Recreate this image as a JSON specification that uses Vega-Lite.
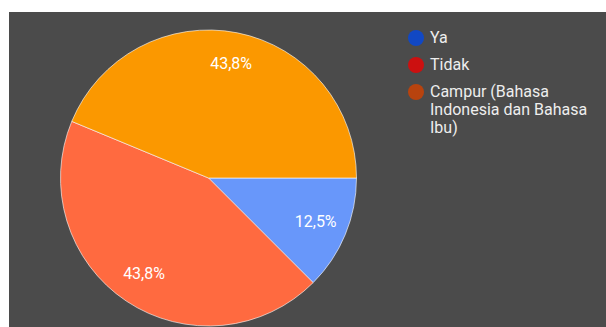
{
  "$schema": "https://vega.github.io/schema/vega-lite/v6.json",
  "background": "#ffffff",
  "padding": {"left": 9, "top": 12, "right": 0, "bottom": 0},
  "data": {"values": [
    {"jawaban": "Ya", "jumlah": 2, "urutan": 1, "label": "12,5%"},
    {"jawaban": "Tidak", "jumlah": 7, "urutan": 2, "label": "43,8%"},
    {"jawaban": "Campur (Bahasa Indonesia dan Bahasa Ibu)", "jumlah": 7, "urutan": 3, "label": "43,8%"}
  ]},
  "spacing": 0,
  "resolve": {"scale": {"color": "independent"}, "legend": {"color": "independent"}},
  "hconcat": [
    {
      "width": 399,
      "height": 332,
      "view": {"fill": "#4b4b4b", "stroke": null},
      "encoding": {
        "theta": {"field": "jumlah", "type": "quantitative", "stack": true, "scale": {"range": [1.5708, 7.854]}},
        "order": {"field": "urutan", "type": "quantitative"}
      },
      "layer": [
        {
          "mark": {"type": "arc", "outerRadius": 148, "stroke": "#ffffff", "strokeOpacity": 0.6, "strokeWidth": 1},
          "encoding": {
            "fill": {
              "field": "jawaban",
              "type": "nominal",
              "scale": {
                "domain": ["Ya", "Tidak", "Campur (Bahasa Indonesia dan Bahasa Ibu)"],
                "range": ["#6897fa", "#ff6a40", "#fb9800"]
              },
              "legend": null
            }
          }
        },
        {
          "mark": {"type": "text", "radius": 116, "font": "Roboto", "fontSize": 16, "fill": "#ffffff"},
          "encoding": {"text": {"field": "label", "type": "nominal"}}
        }
      ]
    },
    {
      "width": 198,
      "height": 332,
      "view": {"fill": "#4b4b4b", "stroke": null},
      "mark": {"type": "text"},
      "encoding": {
        "text": {"value": ""},
        "color": {
          "field": "jawaban",
          "type": "nominal",
          "scale": {
            "domain": ["Ya", "Tidak", "Campur (Bahasa Indonesia dan Bahasa Ibu)"],
            "range": ["#1148c4", "#cc1010", "#b8430e"]
          },
          "legend": {
            "orient": "none",
            "legendX": 0,
            "legendY": 18,
            "zindex": 1,
            "title": null,
            "padding": 0,
            "symbolType": "circle",
            "symbolSize": 256,
            "symbolStrokeWidth": 0,
            "symbolOpacity": 1,
            "labelFont": "Roboto",
            "labelFontSize": 16,
            "labelColor": "#eeeeee",
            "labelOffset": 6,
            "labelLimit": 300,
            "rowPadding": 11,
            "labelExpr": "datum.label == 'Campur (Bahasa Indonesia dan Bahasa Ibu)' ? ['Campur (Bahasa', 'Indonesia dan Bahasa', 'Ibu)'] : datum.label",
            "encode": {
              "labels": {"lineHeight": {"value": 21.5}}
            }
          }
        }
      }
    }
  ],
  "config": {"view": {"fill": "#4b4b4b", "stroke": null}}
}
